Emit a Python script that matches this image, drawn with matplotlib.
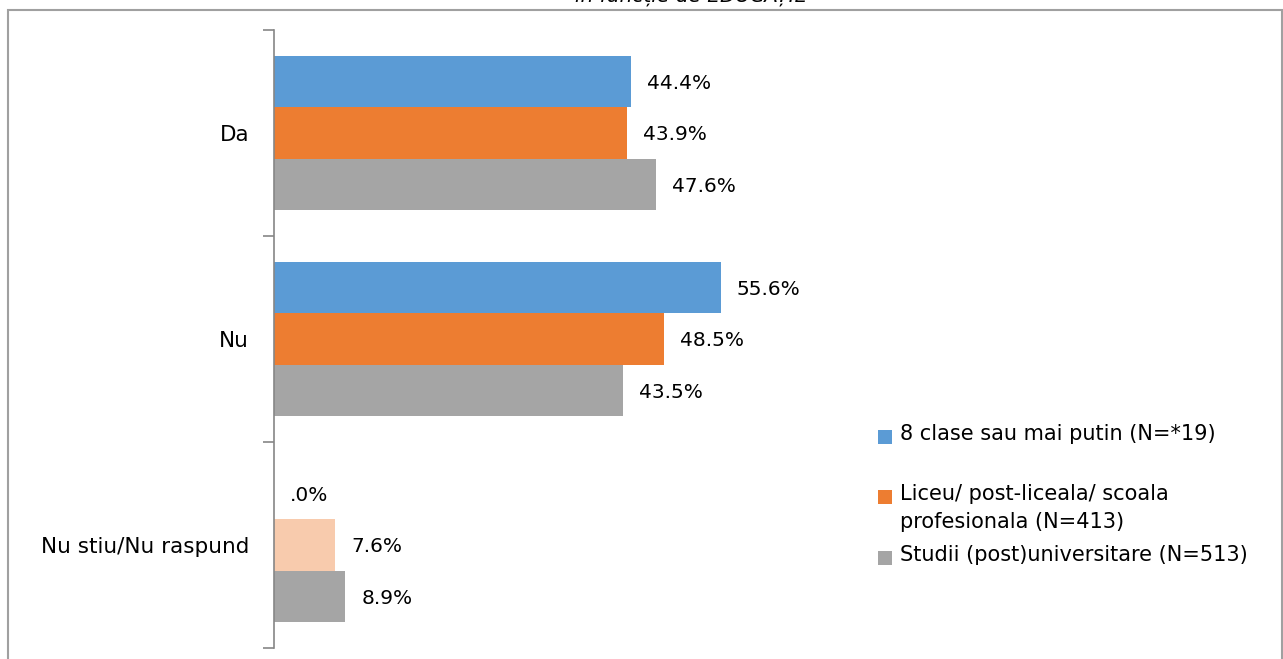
import matplotlib
matplotlib.use("Agg")
import matplotlib.pyplot as plt
from matplotlib.patches import Rectangle

categories = ["Da", "Nu", "Nu stiu/Nu raspund"]
series_names = ["8 clase sau mai putin (N=*19)",
                "Liceu/ post-liceala/ scoala\nprofesionala (N=413)",
                "Studii (post)universitare (N=513)"]
values = {
    series_names[0]: [44.4, 55.6, 0.0],
    series_names[1]: [43.9, 48.5, 7.6],
    series_names[2]: [47.6, 43.5, 8.9],
}
value_labels = {
    series_names[0]: ["44.4%", "55.6%", ".0%"],
    series_names[1]: ["43.9%", "48.5%", "7.6%"],
    series_names[2]: ["47.6%", "43.5%", "8.9%"],
}
title = "în funcție de EDUCAȚIE"

colors = ["#5B9BD5", "#ED7D31", "#A5A5A5"]
# special light colour for the orange bar in the last category
point_colors = {(1, 2): "#F8CBAD"}

W, H = 1283, 659
fig = plt.figure(figsize=(W / 100, H / 100), dpi=100)
plt.rcParams['font.family'] = ['DejaVu Sans']

ax_left, ax_right = 274, 756
ax_top, ax_bot = 30, 648
ax = fig.add_axes([ax_left / W, 1 - ax_bot / H, (ax_right - ax_left) / W, (ax_bot - ax_top) / H])

n = len(categories)
ypos = [n - 1 - i for i in range(n)]
bar_h = 0.25
offsets = [0.25, 0.0, -0.25]
fs = 14.5
for si, name in enumerate(series_names):
    for ci, cat in enumerate(categories):
        v = values[name][ci]
        c = point_colors.get((si, ci), colors[si])
        y = ypos[ci] + offsets[si]
        ax.barh(y, v, height=bar_h, color=c, edgecolor='none')
        ax.annotate(value_labels[name][ci], xy=(v, y), xytext=(16, -2),
                    textcoords='offset pixels', va='center', ha='left',
                    fontsize=fs, color='#000000')

ax.set_xlim(0, 60)
ax.set_ylim(-0.5, n - 0.5)
ax.set_yticks(ypos)
ax.set_yticklabels(categories, fontsize=15.5)
ax.set_yticks([i - 0.5 for i in range(n + 1)], minor=True)
ax.tick_params(axis='y', which='major', length=0, pad=18)
ax.tick_params(axis='y', which='minor', length=8, width=1.2, color='#868686')
ax.set_xticks([])
for s in ['top', 'right', 'bottom']:
    ax.spines[s].set_visible(False)
ax.spines['left'].set_color('#868686')
ax.spines['left'].set_linewidth(1.2)

# legend drawn manually (Excel style)
leg_x = 878
leg_entries_y = [437, 497, 558]  # first-line centres in px
for si, name in enumerate(series_names):
    yc = leg_entries_y[si]
    fig.patches.append(Rectangle((leg_x / W, 1 - (yc + 7) / H), 14 / W, 14 / H,
                                 transform=fig.transFigure, facecolor=colors[si],
                                 edgecolor='none'))
    fig.text(900 / W, 1 - (yc - 13) / H, name, ha='left', va='top',
             fontsize=15, linespacing=1.5)

# frame
fig.patches.append(Rectangle((8 / W, -0.05), (1282 - 8) / W, 0.05 + 1 - 10 / H,
                             transform=fig.transFigure, facecolor='none',
                             edgecolor='#A0A0A0', linewidth=1.5))
# title (partly cut off at the top, as in the reference)
fig.text(691 / W, 1 - 2.5 / H, title, ha='center', va='baseline',
         fontsize=fs, style='italic')

fig.savefig("out.png", dpi=100)
